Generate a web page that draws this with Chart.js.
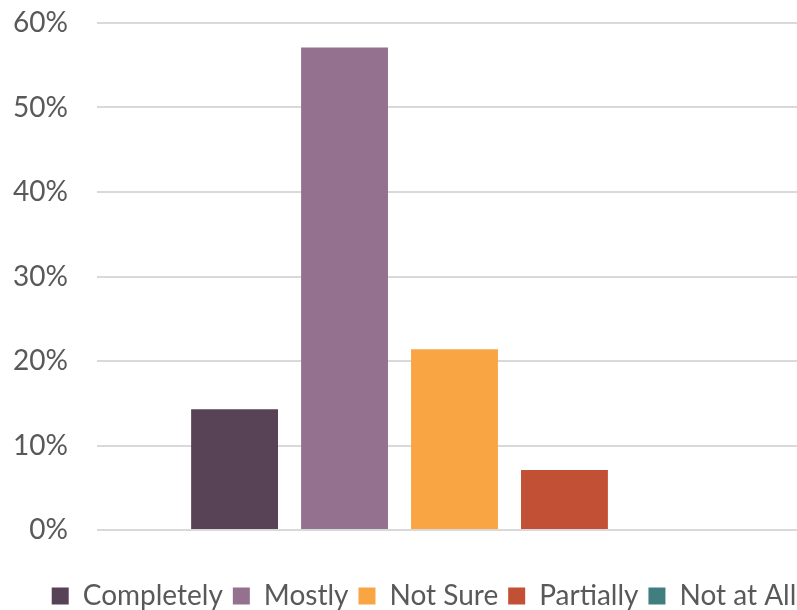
<!DOCTYPE html>
<html>
<head>
<meta charset="utf-8">
<script src="https://cdn.jsdelivr.net/npm/chart.js@4/dist/chart.umd.min.js"></script>
<style>
  html, body { margin: 0; padding: 0; background: #ffffff; overflow: hidden; }
  #wrap { width: 812px; height: 610px; }
</style>
</head>
<body>
<div id="wrap"><canvas id="c" width="812" height="610"></canvas></div>
<script>
// Share of responses per answer (percent)
const answers = ['Completely', 'Mostly', 'Not Sure', 'Partially', 'Not at All'];
const shares = [14.3, 57.1, 21.4, 7.1, 0];
const colors = ['#574355', '#94718f', '#f9a543', '#c25034', '#417e80'];
const yTicks = [0, 10, 20, 30, 40, 50, 60];

const textColor = '#595959';
Chart.defaults.font.family = 'Lato, "Open Sans", sans-serif';

const datasets = answers.map((name, i) => ({
  label: name,
  data: [shares[i]],
  backgroundColor: colors[i],
  borderWidth: 0,
  barPercentage: 0.79,
  categoryPercentage: 0.769
}));

// Nudges the legend after layout
const legendShift = {
  id: 'legendShift',
  afterLayout(chart, args, opts) {
    const lg = chart.legend;
    if (lg) {
      lg.left += opts.dx; lg.right += opts.dx;
      lg.top += opts.dy; lg.bottom += opts.dy;
    }
  }
};

new Chart(document.getElementById('c'), {
  type: 'bar',
  data: { labels: [''], datasets },
  plugins: [legendShift],
  options: {
    responsive: false,
    animation: false,
    layout: { padding: { top: 23, right: 0, bottom: 0, left: 0 } },
    plugins: {
      legendShift: { dx: 18, dy: 10 },
      tooltip: { enabled: false },
      legend: {
        position: 'bottom',
        labels: {
          boxWidth: 17,
          boxHeight: 17,
          padding: 10,
          color: textColor,
          font: { size: 28 }
        }
      }
    },
    scales: {
      x: {
        ticks: { display: false },
        grid: { display: false },
        border: { display: false },
        afterFit(scale) { scale.height = 32; }
      },
      y: {
        min: 0,
        max: 60,
        afterBuildTicks(scale) { scale.ticks = yTicks.map(v => ({ value: v })); },
        ticks: {
          padding: 29,
          color: textColor,
          font: { size: 28 },
          callback: v => v + '%'
        },
        grid: { color: '#d9d9d9', lineWidth: 2, drawTicks: false },
        border: { display: false },
        afterFit(scale) {
          scale.width = 97;
          scale.paddingTop = 0;
          scale.paddingBottom = 0;
        }
      }
    }
  }
});
</script>
</body>
</html>
